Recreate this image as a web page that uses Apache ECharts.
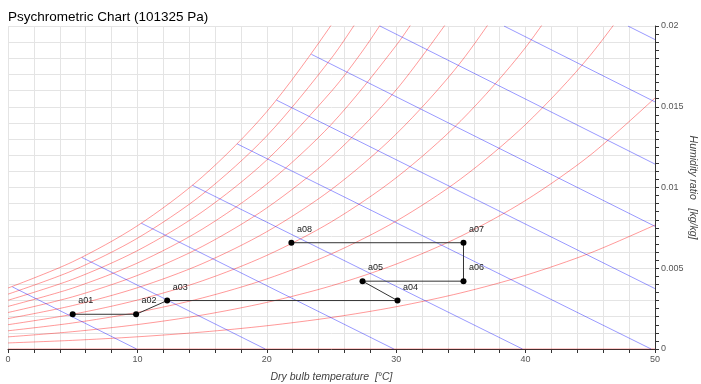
<!DOCTYPE html>
<html>
<head>
<meta charset="utf-8">
<script src="https://cdn.jsdelivr.net/npm/echarts@6/dist/echarts.min.js"></script>
<style>html,body{margin:0;padding:0;background:#fff}#c{width:701px;height:384px}</style>
</head>
<body>
<div id="c"></div>
<script>
// ---- Relative humidity curves [dry bulb °C, humidity ratio kg/kg] ----
const rh0 = [[0, 0], [50, 0]];
const rh10 = [[0,0.000375],[5,0.000536],[10,0.000755],[15,0.001049],[20,0.001439],[25,0.001951],[30,0.002617],[35,0.003474],[40,0.004566],[45,0.005946],[50,0.007676]];
const rh20 = [[0,0.000751],[5,0.001073],[10,0.001511],[15,0.002100],[20,0.002885],[25,0.003915],[30,0.005257],[35,0.006987],[40,0.009200],[45,0.012007],[50,0.015544]];
const rh30 = [[0,0.001128],[5,0.001611],[10,0.002270],[15,0.003156],[20,0.004338],[25,0.005891],[30,0.007919],[35,0.010540],[40,0.013903],[45,0.018187],[50,0.023611]];
const rh40 = [[0,0.001505],[5,0.002150],[10,0.003030],[15,0.004215],[20,0.005797],[25,0.007880],[30,0.010604],[35,0.014133],[40,0.018675],[45,0.024488]];
const rh50 = [[0,0.001882],[5,0.002690],[10,0.003792],[15,0.005278],[20,0.007263],[25,0.009881],[30,0.013311],[35,0.017768],[40,0.023521]];
const rh60 = [[0,0.002259],[5,0.003231],[10,0.004556],[15,0.006344],[20,0.008736],[25,0.011895],[30,0.016042],[35,0.021444]];
const rh70 = [[0,0.002637],[5,0.003772],[10,0.005322],[15,0.007414],[20,0.010216],[25,0.013922],[30,0.018797],[32.5,0.021752]];
const rh80 = [[0,0.003016],[5,0.004315],[10,0.006090],[15,0.008487],[20,0.011703],[25,0.015962],[27.5,0.018566],[30,0.021575]];
const rh90 = [[0,0.003395],[5,0.004858],[10,0.006859],[15,0.009565],[20,0.013197],[25,0.018015],[27.5,0.020965]];
const rh100 = [[0,0.003775],[5,0.005403],[10,0.007631],[15,0.010646],[20,0.014698],[25,0.020081],[27.5,0.02338]];
const rhCurves = [rh0, rh10, rh20, rh30, rh40, rh50, rh60, rh70, rh80, rh90, rh100];

// ---- Constant enthalpy lines (10..100 kJ/kg) ----
const h10 = [[0.33,0.00385],[9.94,0]];
const h20 = [[5.71,0.00567],[19.88,0]];
const h30 = [[10.3,0.00779],[29.82,0]];
const h40 = [[14.25,0.01014],[39.76,0]];
const h50 = [[17.71,0.0127],[49.7,0]];
const h60 = [[20.75,0.01541],[50,0.003739]];
const h70 = [[23.44,0.01825],[50,0.007595]];
const h80 = [[28.74,0.02],[50,0.01145]];
const h90 = [[38.33,0.02],[50,0.0153]];
const h100 = [[47.91,0.02],[50,0.01916]];
const enthalpyLines = [h10, h20, h30, h40, h50, h60, h70, h80, h90, h100];

// ---- Process states ----
const pointNames = ['a01','a02','a03','a04','a05','a06','a07','a08'];
const pointT = [5, 9.9, 12.3, 30.1, 27.4, 35.2, 35.2, 21.9];
const pointW = [0.00215, 0.00215, 0.003, 0.003, 0.0042, 0.0042, 0.00658, 0.00658];

const xTicks = [0, 10, 20, 30, 40, 50];
const yTicks = ['0', '0.005', '0.01', '0.015', '0.02'];

const series = [];
rhCurves.forEach(function (d) {
  series.push({type: 'line', data: d, smooth: 0.3, showSymbol: false, silent: true,
    lineStyle: {color: 'rgba(255,0,0,0.4)', width: 1}, z: 2});
});
enthalpyLines.forEach(function (d) {
  series.push({type: 'line', data: d, showSymbol: false, silent: true,
    lineStyle: {color: 'rgba(0,0,255,0.4)', width: 1}, z: 2});
});
series.push({
  type: 'line',
  data: pointT.map(function (t, i) { return {value: [t, pointW[i]], name: pointNames[i]}; }),
  symbol: 'circle', symbolSize: 6,
  itemStyle: {color: '#000'},
  lineStyle: {color: '#333', width: 1},
  label: {show: true, position: 'top', distance: 6, offset: [13, 0],
    formatter: function (p) { return p.name; }, fontSize: 9, color: '#222', fontFamily: 'Liberation Sans, Arial, sans-serif'},
  z: 5
});

const chart = echarts.init(document.getElementById('c'), null, {renderer: 'canvas'});
chart.setOption({
  animation: false,
  title: {text: 'Psychrometric Chart (101325 Pa)', left: 3, top: 5,
    textStyle: {fontSize: 13.5, fontWeight: 'normal', color: '#000', fontFamily: 'Liberation Sans, Arial, sans-serif'}},
  grid: {left: 8, right: 46, top: 26, bottom: 35, containLabel: false, outerBoundsMode: 'none'},
  xAxis: {
    type: 'value', min: 0, max: 50, interval: 2,
    name: 'Dry bulb temperature  [°C]', nameLocation: 'middle', nameGap: 23, nameMoveOverlap: false,
    nameTextStyle: {fontStyle: 'italic', fontSize: 10.5, color: '#444', fontFamily: 'Liberation Sans, Arial, sans-serif'},
    axisLine: {show: true, onZero: false, lineStyle: {color: '#333', width: 1}},
    axisTick: {show: true, length: 4, lineStyle: {color: '#333'}},
    axisLabel: {fontSize: 9, color: '#555', margin: 6, fontFamily: 'Liberation Sans, Arial, sans-serif',
      formatter: function (v) { return xTicks.indexOf(Math.round(v)) >= 0 && Math.abs(v - Math.round(v)) < 1e-6 ? String(Math.round(v)) : ''; }},
    splitLine: {show: true, lineStyle: {color: '#e4e4e4', width: 1}}
  },
  yAxis: {
    type: 'value', min: 0, max: 0.02, interval: 0.001, position: 'right',
    name: 'Humidity ratio   [kg/kg]', nameLocation: 'middle', nameGap: 32, nameRotate: -90, nameMoveOverlap: false,
    nameTextStyle: {fontStyle: 'italic', fontSize: 10.5, color: '#444', fontFamily: 'Liberation Sans, Arial, sans-serif'},
    axisLine: {show: true, onZero: false, lineStyle: {color: '#333', width: 1}},
    axisTick: {show: true, length: 4, lineStyle: {color: '#333'}},
    minorTick: {show: true, splitNumber: 2, length: 4, lineStyle: {color: '#333'}},
    axisLabel: {fontSize: 9, color: '#555', margin: 6, fontFamily: 'Liberation Sans, Arial, sans-serif',
      formatter: function (v) {
        const s = String(+v.toFixed(4));
        return yTicks.indexOf(s) >= 0 ? s : '';
      }},
    splitLine: {show: true, lineStyle: {color: '#e4e4e4', width: 1}}
  },
  series: series
});
</script>
</body>
</html>
